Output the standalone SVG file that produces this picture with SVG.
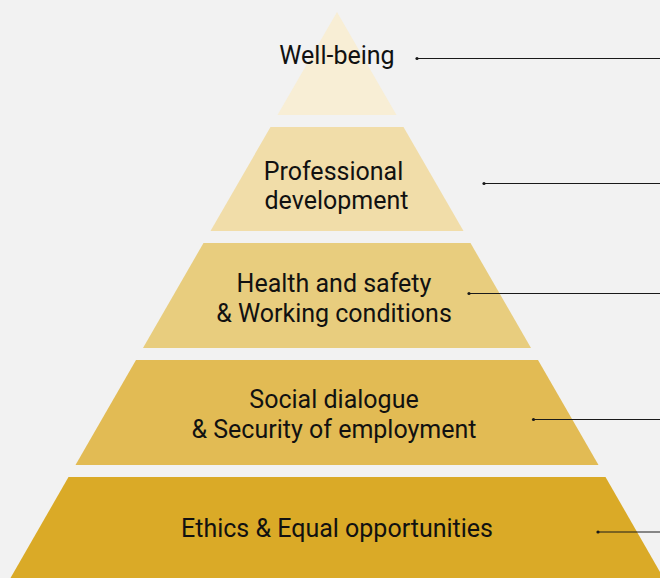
<svg xmlns="http://www.w3.org/2000/svg" width="660" height="578" viewBox="0 0 660 578">
  <style>
    .lbl { font-family: Roboto, "Liberation Sans", sans-serif; font-size: 25px; fill: #111; text-anchor: middle; }
    .lead { stroke: #1a1a1a; stroke-width: 1.2; fill: none; }
    .dot { fill: #1a1a1a; }
  </style>
  <rect width="660" height="578" fill="#f2f2f2"/>

  <!-- pyramid tiers, top to bottom -->
  <g id="tier-wellbeing">
    <polygon points="337,12 396.5,115 277.5,115" fill="#f8eed5"/>
    <text class="lbl" x="337" y="64">Well-being</text>
  </g>
  <g id="tier-professional">
    <polygon points="270.5,127 403.5,127 463.5,231 210.5,231" fill="#f1dda9"/>
    <text class="lbl" x="333.5" y="180">Professional</text>
    <text class="lbl" x="336.5" y="209">development</text>
  </g>
  <g id="tier-health">
    <polygon points="203.5,243 470.5,243 531,348 143,348" fill="#e8cd7e"/>
    <text class="lbl" x="334" y="292">Health and safety</text>
    <text class="lbl" x="334" y="322">&amp; Working conditions</text>
  </g>
  <g id="tier-social">
    <polygon points="136,360 538,360 598.5,465 75.5,465" fill="#e2bb54"/>
    <text class="lbl" x="334" y="408">Social dialogue</text>
    <text class="lbl" x="334" y="438">&amp; Security of employment</text>
  </g>
  <g id="tier-ethics">
    <polygon points="68.5,477 605.5,477 663.5,578 10.5,578" fill="#daaa27"/>
    <text class="lbl" x="337" y="537">Ethics &amp; Equal opportunities</text>
  </g>

  <!-- leader lines running off to the right -->
  <g id="connectors">
    <line class="lead" x1="417" y1="58.5" x2="660" y2="58.5"/>
    <circle class="dot" cx="417" cy="58.5" r="1.6"/>
    <line class="lead" x1="484" y1="183.5" x2="660" y2="183.5"/>
    <circle class="dot" cx="484" cy="183.5" r="1.6"/>
    <line class="lead" x1="469" y1="293.5" x2="660" y2="293.5"/>
    <circle class="dot" cx="469" cy="293.5" r="1.6"/>
    <line class="lead" x1="533.5" y1="419.5" x2="660" y2="419.5"/>
    <circle class="dot" cx="533.5" cy="419.5" r="1.6"/>
    <line class="lead" x1="598" y1="532" x2="660" y2="532"/>
    <circle class="dot" cx="598" cy="532" r="1.6"/>
  </g>
</svg>
